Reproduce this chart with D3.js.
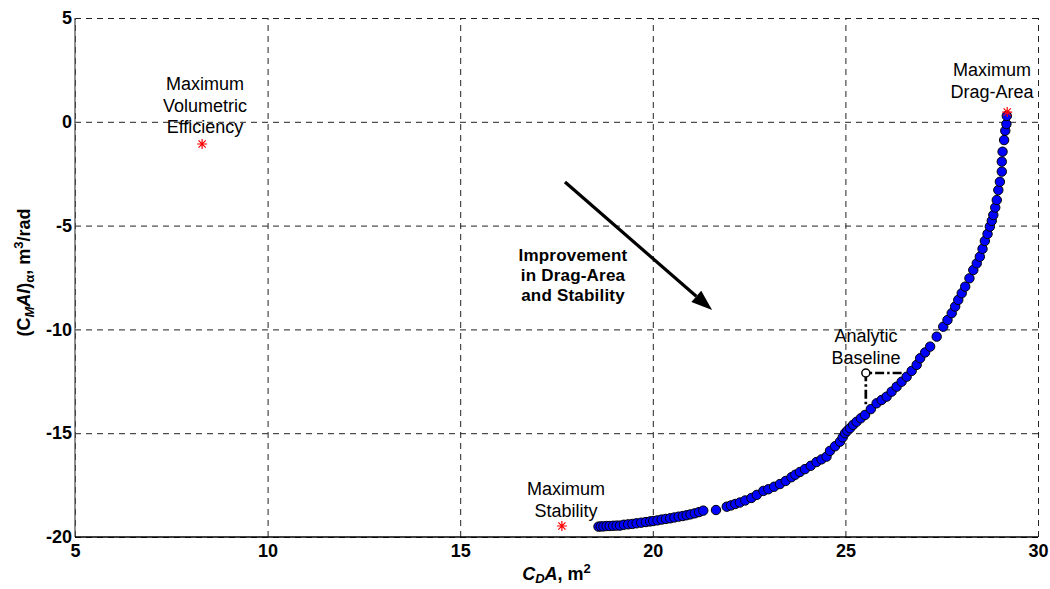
<html>
<head>
<style>
    body { margin:0; background:white; }
    text { font-family: "Liberation Sans", Arial, sans-serif; fill:black; }
    .tick text { font-weight:bold; font-size:18px; }
    .note { font-size:18px; }
</style>
</head>
<body>
<svg id="plot"></svg>
<script src="https://d3js.org/d3.v7.min.js"></script>
<script>

// drag-area (x) and pitch stability (y) of every design
var cdA = [18.59,18.65,18.72,18.80,18.88,18.97,19.06,19.15,19.25,19.36,
           19.47,19.58,19.70,19.82,19.93,20.01,20.12,20.23,20.34,20.45,
           20.56,20.67,20.78,20.88,20.98,21.09,21.20,21.31,21.64,21.92,
           22.03,22.14,22.26,22.40,22.56,22.70,22.87,23.00,23.15,23.30,
           23.45,23.60,23.70,23.82,23.95,24.10,24.25,24.38,24.51,24.60,
           24.73,24.86,24.93,24.99,25.05,25.12,25.20,25.29,25.40,25.51,
           25.66,25.81,25.94,26.07,26.20,26.33,26.46,26.59,26.72,26.85,
           26.94,27.07,27.20,27.37,27.54,27.65,27.76,27.85,27.93,28.02,
           28.11,28.22,28.32,28.41,28.49,28.56,28.62,28.69,28.75,28.80,
           28.84,28.89,28.93,28.97,29.01,29.06,29.06,29.08,29.12,29.15,
           29.18,29.19];
var cmAl = [-19.50,-19.49,-19.49,-19.47,-19.47,-19.46,-19.45,-19.45,-19.41,-19.39,
            -19.37,-19.34,-19.31,-19.28,-19.25,-19.23,-19.20,-19.16,-19.13,-19.10,
            -19.06,-19.02,-18.99,-18.95,-18.91,-18.86,-18.80,-18.73,-18.70,-18.54,
            -18.48,-18.41,-18.34,-18.24,-18.12,-17.97,-17.78,-17.70,-17.58,-17.45,
            -17.30,-17.12,-17.00,-16.87,-16.73,-16.57,-16.39,-16.26,-16.13,-15.85,
            -15.63,-15.41,-15.20,-15.00,-14.88,-14.76,-14.60,-14.45,-14.28,-14.12,
            -13.84,-13.56,-13.40,-13.24,-13.00,-12.76,-12.52,-12.28,-12.00,-11.71,
            -11.39,-11.11,-10.83,-10.35,-9.87,-9.55,-9.22,-8.90,-8.58,-8.26,
            -7.94,-7.54,-7.14,-6.82,-6.50,-6.12,-5.74,-5.40,-5.05,-4.77,
            -4.49,-4.13,-3.77,-3.29,-2.89,-2.40,-1.92,-1.44,-0.88,-0.43,
            -0.11,0.28];

// the three optimum designs (red stars)
var starNames = [["Maximum","Volumetric","Efficiency"],["Maximum","Drag-Area"],["Maximum","Stability"]];
var starX = [8.30, 29.20, 17.64];
var starY = [-1.07, 0.47, -19.47];

// analytic baseline design
var baseX = 25.53, baseY = -12.10;
var baseLineEndX = 26.46, baseLineEndY = -13.72;

// improvement arrow
var arrowFrom = [17.72, -2.90];
var arrowTo = [21.54, -9.07];

var xTicks = [5,10,15,20,25,30];
var yTicks = [-20,-15,-10,-5,0,5];

var screen = {width:1050, height:589};
var margins = {top:18, bottom:52, left:75, right:12};
var graph = {
    width:screen.width-margins.left-margins.right,
    height:screen.height-margins.top-margins.bottom
};

var svg = d3.select("#plot")
    .attr("width",screen.width)
    .attr("height",screen.height);

var xScale = d3.scaleLinear().domain([5,30]).range([0,graph.width]);
var yScale = d3.scaleLinear().domain([-20,5]).range([graph.height,0]);

// plain hyphen for negatives, like the original
var plain = function(d){ return String(d); };

var g = svg.append("g")
    .attr("transform","translate("+margins.left+","+margins.top+")");

// grid lines
g.append("g")
    .attr("transform","translate(0,"+graph.height+")")
    .call(d3.axisBottom(xScale).tickValues(xTicks).tickSize(-graph.height).tickFormat(""))
    .call(function(a){ a.select(".domain").remove(); })
    .selectAll("line")
    .attr("stroke","#222")
    .attr("stroke-dasharray","6,5");

g.append("g")
    .call(d3.axisLeft(yScale).tickValues(yTicks).tickSize(-graph.width).tickFormat(""))
    .call(function(a){ a.select(".domain").remove(); })
    .selectAll("line")
    .attr("stroke","#222")
    .attr("stroke-dasharray","6,5");

// left and bottom axis lines
g.append("line")
    .attr("x1",0).attr("x2",0)
    .attr("y1",0).attr("y2",graph.height)
    .attr("stroke","#555").attr("stroke-width",1.3);
g.append("line")
    .attr("x1",0).attr("x2",graph.width)
    .attr("y1",graph.height).attr("y2",graph.height)
    .attr("stroke","black").attr("stroke-width",1.3);

// tick labels
g.append("g")
    .attr("transform","translate(0,"+graph.height+")")
    .call(d3.axisBottom(xScale).tickValues(xTicks).tickSize(0).tickPadding(7).tickFormat(plain))
    .call(function(a){ a.select(".domain").remove(); });

g.append("g")
    .call(d3.axisLeft(yScale).tickValues(yTicks).tickSize(0).tickPadding(3).tickFormat(plain))
    .call(function(a){ a.select(".domain").remove(); });

// design points
g.append("g")
    .selectAll("circle")
    .data(cdA)
    .enter()
    .append("circle")
    .attr("cx",function(d){ return xScale(d); })
    .attr("cy",function(d,i){ return yScale(cmAl[i]); })
    .attr("r",4.7)
    .attr("fill","#0000ff")
    .attr("stroke","black")
    .attr("stroke-width",1);

// stars
var starPath = function(s)
{
    var d = s*0.72;
    return "M"+(-s)+",0L"+s+",0M0,"+(-s)+"L0,"+s+
           "M"+(-d)+","+(-d)+"L"+d+","+d+"M"+(-d)+","+d+"L"+d+","+(-d);
}

g.append("g")
    .selectAll("path")
    .data(starX)
    .enter()
    .append("path")
    .attr("d",starPath(5))
    .attr("transform",function(d,i){ return "translate("+xScale(d)+","+yScale(starY[i])+")"; })
    .attr("stroke","red")
    .attr("stroke-width",1.2)
    .attr("fill","none");

// star labels
var labelPos = [{x:205, y:90}, {x:992, y:76}, {x:566, y:495}];
starNames.forEach(function(lines,i)
{
    var t = svg.append("text")
        .classed("note",true)
        .attr("text-anchor","middle");
    lines.forEach(function(s,j)
    {
        t.append("tspan")
            .attr("x",labelPos[i].x)
            .attr("y",labelPos[i].y+j*21.5)
            .text(s);
    });
});

// analytic baseline
g.append("path")
    .attr("d","M"+xScale(baseLineEndX)+","+yScale(baseY)+
              "L"+xScale(baseX)+","+yScale(baseY)+
              "L"+xScale(baseX)+","+yScale(baseLineEndY))
    .attr("fill","none")
    .attr("stroke","black")
    .attr("stroke-width",2.7)
    .attr("stroke-dasharray","9,3,2.5,3");
g.append("circle")
    .attr("cx",xScale(baseX))
    .attr("cy",yScale(baseY))
    .attr("r",4)
    .attr("fill","white")
    .attr("stroke","black")
    .attr("stroke-width",1.5);

var bt = svg.append("text").classed("note",true).attr("text-anchor","middle");
bt.append("tspan").attr("x",866).attr("y",342).text("Analytic");
bt.append("tspan").attr("x",866).attr("y",364).text("Baseline");

// improvement arrow
var ax1 = xScale(arrowFrom[0]), ay1 = yScale(arrowFrom[1]);
var ax2 = xScale(arrowTo[0]), ay2 = yScale(arrowTo[1]);
var ang = Math.atan2(ay2-ay1, ax2-ax1);
var headLen = 21, headW = 7.5;
var bx = ax2-headLen*Math.cos(ang), by = ay2-headLen*Math.sin(ang);
g.append("line")
    .attr("x1",ax1).attr("y1",ay1)
    .attr("x2",bx).attr("y2",by)
    .attr("stroke","black")
    .attr("stroke-width",3.2);
g.append("path")
    .attr("d","M"+ax2+","+ay2+
              "L"+(bx+headW*Math.sin(ang))+","+(by-headW*Math.cos(ang))+
              "L"+(bx-headW*Math.sin(ang))+","+(by+headW*Math.cos(ang))+"Z")
    .attr("fill","black");

var it = svg.append("text")
    .attr("text-anchor","middle")
    .style("font-weight","bold")
    .style("font-size","17px")
    .style("letter-spacing","0.2px");
it.append("tspan").attr("x",573).attr("y",261).text("Improvement");
it.append("tspan").attr("x",573).attr("y",281).text("in Drag-Area");
it.append("tspan").attr("x",573).attr("y",301).text("and Stability");

// axis titles
var xl = svg.append("text")
    .attr("x",margins.left+graph.width/2)
    .attr("y",580)
    .attr("text-anchor","middle")
    .style("font-weight","bold")
    .style("font-size","18px");
xl.append("tspan").style("font-style","italic").text("C");
xl.append("tspan").style("font-style","italic").style("font-size","13px").attr("dy",3).text("D");
xl.append("tspan").style("font-style","italic").attr("dy",-3).text("A");
xl.append("tspan").text(", m");
xl.append("tspan").style("font-size","13px").attr("dy",-7).text("2");

var yl = svg.append("text")
    .attr("transform","translate(30,"+(margins.top+graph.height/2-5)+") rotate(-90)")
    .attr("text-anchor","middle")
    .style("font-weight","bold")
    .style("font-size","18px");
yl.append("tspan").text("(C");
yl.append("tspan").style("font-size","13px").attr("dy",4).style("font-style","italic").text("M");
yl.append("tspan").attr("dy",-4).style("font-style","italic").text("Al");
yl.append("tspan").text(")");
yl.append("tspan").style("font-size","13px").attr("dy",4).text("α");
yl.append("tspan").attr("dy",-4).text(", m");
yl.append("tspan").style("font-size","13px").attr("dy",-7).text("3");
yl.append("tspan").attr("dy",7).text("/rad");

</script>
</body>
</html>
